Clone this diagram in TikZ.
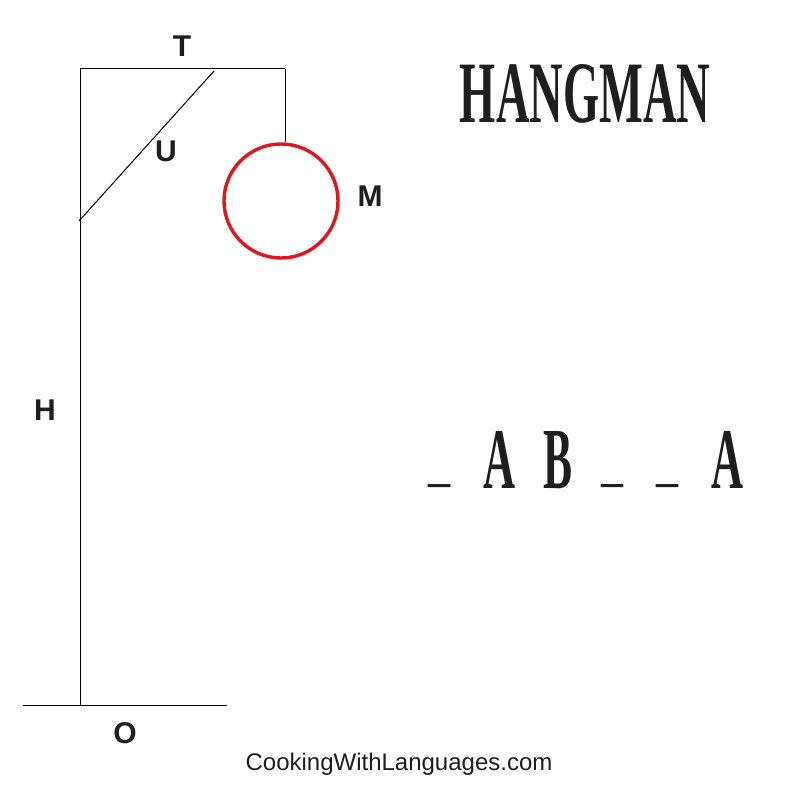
\documentclass[tikz,border=0pt]{standalone}
\usepackage{fontspec}
\setmainfont{Liberation Sans}
\newfontfamily\titlefont{Liberation Serif}
\definecolor{ink}{HTML}{1E1E1E}
\definecolor{headred}{HTML}{E0161B}
\begin{document}
\begin{tikzpicture}[x=1pt,y=-1pt,
  gallows/.style={draw=black,line width=1pt},
  lbl/.style={font=\fontsize{30}{30}\selectfont\bfseries,text=ink,inner sep=0pt},
  glyph/.style={font=\titlefont\bfseries,text=ink,inner sep=0pt,anchor=south},
  blank/.style={font=\titlefont\bfseries\fontsize{44}{44}\selectfont,text=ink,inner sep=0pt}]
\useasboundingbox[fill=white] (0,0) rectangle (800,800);
% gallows
\coordinate (tl) at (80,69);
\coordinate (tr) at (285,69);
\coordinate (foot) at (80,705);
\coordinate (bl) at (23,705);
\coordinate (br) at (227,705);
\coordinate (braceA) at (79,221);
\coordinate (braceB) at (214,71);
\node[draw=headred,line width=3.4pt,circle,minimum size=114pt,inner sep=0pt] (head) at (281,201) {};
\draw[gallows] (foot) -- (tl) -- (tr);
\draw[gallows] (tr) -- (tr |- head.north);
\draw[gallows] (braceA) -- (braceB);
\draw[gallows] (bl) -- (br);
% labels
\node[lbl] (T) at (182,46) {T};
\node[lbl] (U) at (166,151) {U};
\node[lbl] (M) at (370,196) {M};
\node[lbl] (H) at (45,410) {H};
\node[lbl] (O) at (125,733) {O};
% title
\node[inner sep=0pt,text=ink] (title) at (585,94) {\titlefont\bfseries\resizebox{250pt}{58pt}{HANGMAN}};
% word
\node[blank] (b1) at (439,485) {\_};
\node[glyph] (l2) at (499,489) {\resizebox{32pt}{57pt}{A}};
\node[glyph] (l3) at (558,489) {\resizebox{29pt}{57pt}{B}};
\node[blank] (b4) at (612,485) {\_};
\node[blank] (b5) at (667,485) {\_};
\node[glyph] (l6) at (727,489) {\resizebox{32pt}{57pt}{A}};
% footer
\node[inner sep=0pt,font=\fontsize{24}{24}\selectfont,text=ink] (site) at (399,764) {CookingWithLanguages.com};
\end{tikzpicture}
\end{document}
